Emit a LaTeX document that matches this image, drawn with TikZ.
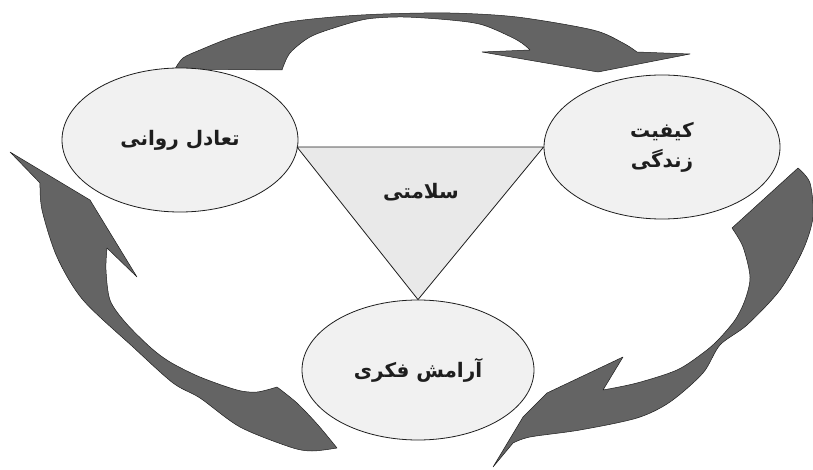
\documentclass[tikz,border=0pt]{standalone}
\usepackage{fontspec}
\usepackage{tikz}
\usetikzlibrary{shapes.geometric}
\TeXXeTstate=1
\newfontfamily\fafont[Script=Arabic]{DejaVu Sans}
\definecolor{ink}{HTML}{1E1E1E}
\definecolor{band}{HTML}{646464}
\definecolor{pale}{HTML}{F1F1F1}
\definecolor{trifill}{HTML}{E9E9E9}
\tikzset{
  bubble/.style={ellipse, draw=ink, line width=0.8pt, fill=pale, inner sep=0pt,
    minimum width=236pt, minimum height=144pt, align=center, text=ink,
    font=\fafont\bfseries\fontsize{20}{30}\selectfont},
  trishape/.style={draw=ink, line width=0.8pt, fill=trifill, line join=round},
  ribbon/.style={fill=band, draw=ink, line width=0.5pt, line join=round},
  lbl/.style={text=ink, font=\fafont\bfseries\fontsize{20}{30}\selectfont},
}
\newcommand{\fa}[1]{\beginR #1\endR}

\begin{document}
\begin{tikzpicture}[x=1pt,y=-1pt]
  \useasboundingbox (0,0) rectangle (813,470);
  \filldraw[ribbon] plot[smooth] coordinates {(175,69) (183,58) (200,50) (233,37) (283,23) (333,17) (383,14) (450,13) (517,17) (593,30) (623,43) (637,52)}
    -- (690,54) -- (598,72) -- (482,52) -- (530,50)
    -- plot[smooth] coordinates {(530,50) (517,40) (483,25) (450,20) (403,17) (367,19) (337,27) (310,37) (290,53) (282,70)} -- cycle;
  \filldraw[ribbon] (10,152) -- plot[smooth] coordinates {(40,183) (42,210) (57,257) (83,300) (133,347) (173,383) (200,398) (240,427) (290,447) (312,451) (337,448)}
    -- plot[smooth] coordinates {(337,448) (318,425) (297,403) (277,387)}
    -- plot[smooth] coordinates {(277,387) (257,392) (237,390) (200,377) (170,362) (150,347) (125,322) (110,300) (106,270) (107,248)}
    -- (137,277) -- (90,200) -- cycle;
  \filldraw[ribbon] plot[smooth] coordinates {(798,168) (810,183) (813,217) (803,250) (780,290) (747,325) (720,345) (703,373) (670,402) (637,418) (580,430) (530,437) (513,443)}
    -- (493,467) -- (523,417) -- (547,393) -- (623,357) -- (603,390)
    -- plot[smooth] coordinates {(603,390) (637,383) (677,370) (703,353) (718,340) (735,320) (745,300) (750,277) (743,247) (732,228)} -- cycle;
  \node[bubble] (ravani) at (180,140) {\fa{تعادل روانی}};
  \node[bubble] (keyfiat) at (662,147) {\fa{کیفیت}\\\fa{زندگی}};
  \node[bubble, minimum width=232pt, minimum height=140pt] (aramesh) at (418,370) {\fa{آرامش فکری}};
  \coordinate (tl) at (297,147);
  \draw[trishape] (tl) -- (keyfiat.west) -- (aramesh.north) -- cycle;
  \node[lbl] (salamati) at (421,192) {\fa{سلامتی}};
\end{tikzpicture}
\end{document}
